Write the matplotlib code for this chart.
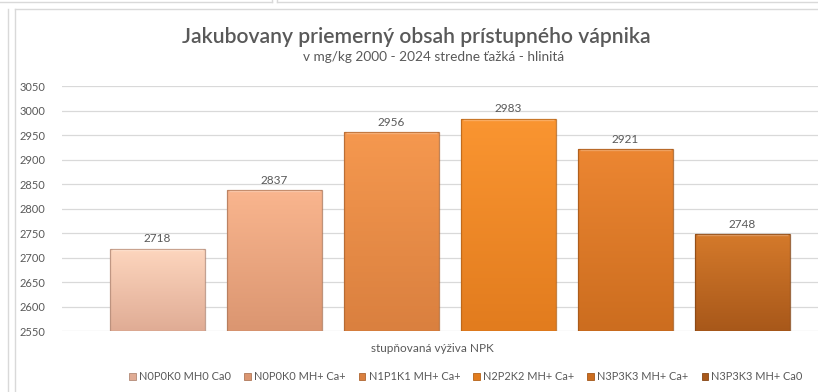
import numpy as np
import matplotlib
matplotlib.use("Agg")
import matplotlib.pyplot as plt
from matplotlib.patches import Patch
from matplotlib.colors import to_rgb
from matplotlib.lines import Line2D

plt.rcParams["font.family"] = ["Lato", "DejaVu Sans"]

series = ["N0P0K0 MH0 Ca0", "N0P0K0 MH+ Ca+", "N1P1K1 MH+ Ca+",
          "N2P2K2 MH+ Ca+", "N3P3K3 MH+ Ca+", "N3P3K3 MH+ Ca0"]
values = [2718, 2837, 2956, 2983, 2921, 2748]
top_colors = ["#FDD6BE", "#F9B58E", "#F5984F", "#FA9531", "#EC8632", "#D57A2B"]
bottom_colors = ["#E0AC95", "#DB9671", "#DA803F", "#E27C1E", "#CC6D1F", "#A8581A"]
yticks = list(range(2550, 3051, 50))

title = "Jakubovany priemerný obsah prístupného vápnika"
subtitle = "v mg/kg 2000 - 2024 stredne ťažká - hlinitá"
xlabel = "stupňovaná výživa NPK"

text_col = "#595959"
grid_col = "#D9D9D9"

fig = plt.figure(figsize=(8.18, 3.92), dpi=100)
ax = fig.add_axes([62 / 818, 1 - 331 / 392, 1 - 62 / 818, (331 - 86) / 392])

x = np.arange(len(values))
width = 0.81
bars = ax.bar(x, values, width=width, bottom=0, color="none", zorder=3)
ymin, ymax = yticks[0], yticks[-1]

for b, v, ct, cb in zip(bars, values, top_colors, bottom_colors):
    c1, c2 = np.array(to_rgb(ct)), np.array(to_rgb(cb))
    t = np.linspace(0, 1, 64)[:, None]
    grad = (c1 * (1 - t) + c2 * t)[:, None, :]
    x0 = b.get_x()
    im = ax.imshow(grad, extent=(x0, x0 + width, ymin, v), origin="upper",
                   aspect="auto", zorder=3)
    im.set_clip_path(b)
    edge = c2 * 0.8
    ax.add_patch(plt.Rectangle((x0, ymin), width, v - ymin, fill=False,
                               edgecolor=edge, lw=0.9, alpha=0.8, zorder=4))
    ax.plot([x0 + 0.015, x0 + width - 0.015], [v - 2, v - 2],
            color=(c1 * 2 + 1) / 3, lw=1.0, alpha=0.7, zorder=5,
            solid_capstyle="butt")
    ax.text(x0 + width / 2, v + 9, f"{v}", ha="center", va="bottom",
            fontsize=8.5, color=text_col, zorder=6)

ax.set_ylim(ymin, ymax)
ax.set_xlim((62 - 157.5) / 117, (818 - 157.5) / 117)
ax.set_yticks(yticks)
ax.set_xticks([])
ax.tick_params(axis="y", length=0, labelsize=8, labelcolor=text_col, pad=12)
ax.grid(axis="y", color=grid_col, lw=0.9, zorder=0)
for s in ax.spines.values():
    s.set_visible(False)

fig.text(416 / 818, 1 - 37 / 392, title, ha="center", va="center",
         fontsize=15.2, color=text_col, fontweight="semibold")
fig.text(434 / 818, 1 - 57 / 392, subtitle, ha="center", va="center",
         fontsize=9.8, color=text_col)
fig.text(432 / 818, 1 - 349 / 392, xlabel, ha="center", va="center",
         fontsize=8.5, color=text_col)

handles = [Patch(facecolor=c, edgecolor=np.array(to_rgb(c)) * 0.8, lw=0.6)
           for c in bottom_colors]
fig.legend(handles, series, loc="center", bbox_to_anchor=(466 / 818, 1 - 377 / 392),
           ncol=6, frameon=False, fontsize=7.9, handlelength=0.6, handleheight=0.6,
           handletextpad=0.3, columnspacing=1.2, labelcolor=text_col)

# surrounding frames of the dashboard screenshot
frame = "#D9D9D9"
fig.add_artist(Line2D([0, 272 / 818], [1 - 2 / 392] * 2, color=frame, lw=1))
fig.add_artist(Line2D([277 / 818, 1], [1 - 2 / 392] * 2, color=frame, lw=1))
fig.add_artist(Line2D([272 / 818] * 2, [1 - 2 / 392, 1], color=frame, lw=1))
fig.add_artist(Line2D([277 / 818] * 2, [1 - 2 / 392, 1], color=frame, lw=1))
fig.add_artist(Line2D([8 / 818] * 2, [0, 1 - 9 / 392], color=frame, lw=1))
fig.add_artist(Line2D([15 / 818] * 2, [0, 1 - 9 / 392], color=frame, lw=1))
fig.add_artist(Line2D([15 / 818, 1], [1 - 9 / 392] * 2, color=frame, lw=1))

fig.savefig("out.png", dpi=100)
